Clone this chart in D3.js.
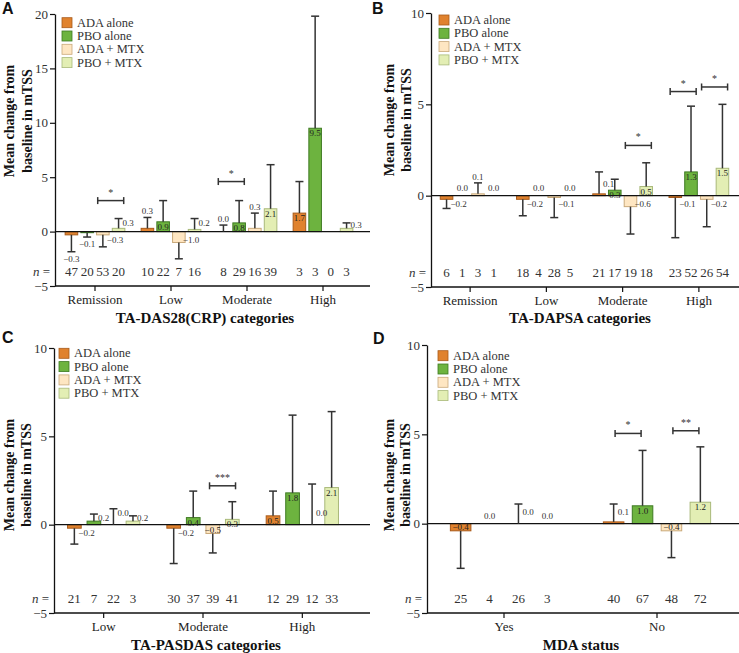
<!DOCTYPE html>
<html><head><meta charset="utf-8">
<script src="https://cdn.jsdelivr.net/npm/d3@7/dist/d3.min.js"></script>
<style>
body{margin:0;background:#fff;}
svg{display:block;}
</style></head>
<body>
<svg id="chart" width="739" height="653"></svg>
<script>
// ---------- DATA ----------
const seriesNames = ["ADA alone", "PBO alone", "ADA + MTX", "PBO + MTX"];

const catsA = ["Remission", "Low", "Moderate", "High"];
const meanA = [[-0.3, -0.1, -0.3, 0.3], [0.3, 0.9, -1.0, 0.2], [0.0, 0.8, 0.3, 2.1], [1.7, 9.5, null, 0.3]];
const errA  = [[-1.85, -0.5, -1.4, 1.2], [1.3, 2.85, -2.5, 1.2], [0.6, 2.85, 1.7, 6.15], [4.6, 19.8, null, 0.8]];
const nA    = [[47, 20, 53, 20], [10, 22, 7, 16], [8, 29, 16, 39], [3, 3, 0, 3]];
const sigA  = [{cat: "Remission", a: 2, b: 3, y: 2.85, label: "*"}, {cat: "Moderate", a: 0, b: 1, y: 4.6, label: "*"}];
const ticksA = [-5, 0, 5, 10, 15, 20];

const catsB = ["Remission", "Low", "Moderate", "High"];
const meanB = [[-0.2, 0.0, 0.1, 0.0], [-0.2, 0.0, -0.1, 0.0], [0.1, 0.3, -0.6, 0.5], [-0.1, 1.3, -0.2, 1.5]];
const errB  = [[-0.7, null, 0.7, null], [-1.1, null, -1.2, null], [1.3, 0.9, -2.1, 1.8], [-2.3, 4.9, -1.7, 5.0]];
const nB    = [[6, 1, 3, 1], [18, 4, 28, 5], [21, 17, 19, 18], [23, 52, 26, 54]];
const sigB  = [{cat: "Moderate", a: 2, b: 3, y: 2.75, label: "*"}, {cat: "High", a: 0, b: 1, y: 5.7, label: "*"}, {cat: "High", a: 2, b: 3, y: 5.95, label: "*"}];
const ticksB = [-5, 0, 5, 10];

const catsC = ["Low", "Moderate", "High"];
const meanC = [[-0.2, 0.2, 0.0, 0.2], [-0.2, 0.4, -0.5, 0.3], [0.5, 1.8, 0.0, 2.1]];
const errC  = [[-1.1, 0.6, 0.9, 0.5], [-2.2, 1.9, -1.6, 1.3], [1.9, 6.2, 2.3, 6.4]];
const nC    = [[21, 7, 22, 3], [30, 37, 39, 41], [12, 29, 12, 33]];
const sigC  = [{cat: "Moderate", a: 2, b: 3, y: 2.2, label: "***"}];
const ticksC = [-5, 0, 5, 10];

const catsD = ["Yes", "No"];
const meanD = [[-0.4, 0.0, 0.0, 0.0], [0.1, 1.0, -0.4, 1.2]];
const errD  = [[-2.5, null, 1.1, null], [1.1, 4.1, -1.9, 4.3]];
const nD    = [[25, 4, 26, 3], [40, 67, 48, 72]];
const sigD  = [{cat: "No", a: 0, b: 1, y: 5.05, label: "*"}, {cat: "No", a: 2, b: 3, y: 5.2, label: "**"}];
const ticksD = [-5, 0, 5, 10];

// ---------- STYLE ----------
const fills   = ["#E0822E", "#6DB33F", "#FEE6C2", "#E3EEB4"];
const strokes = ["#A85A1A", "#3E7A22", "#C9A97A", "#A9B97A"];
const serif = "Liberation Serif, Times New Roman, serif";
const sans = "Liberation Sans, Arial, sans-serif";

const svg = d3.select("#chart");

function fmt(v) { return (v < 0 ? "\u2212" : "") + Math.abs(v).toFixed(1); }
function overlap(a, b) {
  return a.x < b.x + b.width && b.x < a.x + a.width && a.y < b.y + b.height && b.y < a.y + a.height;
}

function drawPanel(p) {
  const g = svg.append("g");
  const y = d3.scaleLinear().domain(p.yDomain).range(p.yRange);
  const xb = d3.scaleBand().domain(p.cats).range(p.band).padding(0);
  const xs = d3.scaleBand().domain(seriesNames).range([-p.groupW / 2, p.groupW / 2]).padding(p.pad);
  const cx = (c, j) => xb(c) + xb.bandwidth() / 2 + xs(seriesNames[j]) + xs.bandwidth() / 2;
  const bw = xs.bandwidth();
  const y0 = y(0), yb = y(p.yDomain[0]);

  // panel letter
  g.append("text").attr("x", p.letter[1]).attr("y", p.letter[2]).text(p.letter[0])
    .style("font-family", sans).attr("font-weight", "bold").attr("font-size", 16).attr("fill", "#111");

  // y axis
  const ya = g.append("g").attr("transform", `translate(${p.axisX},0)`)
    .call(d3.axisLeft(y).tickValues(p.ticks).tickSize(5).tickSizeOuter(0).tickPadding(2)
      .tickFormat(d => (d < 0 ? "\u2212" : "") + Math.abs(d)));
  ya.attr("font-family", null).attr("font-size", null);
  ya.select(".domain").attr("stroke", "#111").attr("stroke-width", 1.3);
  ya.selectAll(".tick line").attr("stroke", "#111").attr("stroke-width", 1.2);
  ya.selectAll(".tick text").style("font-family", serif).style("font-size", "13px").attr("fill", "#333");

  // y title
  const yt = g.append("text").attr("transform", `translate(0,${p.yTitleY}) rotate(-90)`)
    .attr("text-anchor", "middle").style("font-family", serif).attr("font-weight", "bold")
    .attr("font-size", 14).attr("fill", "#111");
  yt.append("tspan").attr("x", 0).attr("y", p.yTitleX[0]).attr("dominant-baseline", "central").text("Mean change from");
  yt.append("tspan").attr("x", 0).attr("y", p.yTitleX[1]).attr("dominant-baseline", "central").text("baseline in mTSS");

  // bottom axis
  const xa = g.append("g").attr("transform", `translate(0,${yb})`)
    .call(d3.axisBottom(xb).tickSize(5).tickSizeOuter(0).tickPadding(4));
  xa.attr("font-family", null).attr("font-size", null);
  xa.select(".domain").remove();
  xa.selectAll(".tick line").attr("stroke", "#111").attr("stroke-width", 1.2);
  xa.selectAll(".tick text").style("font-family", serif).style("font-size", "13px").attr("fill", "#222");
  g.append("line").attr("x1", p.axisX).attr("x2", p.rightX).attr("y1", yb).attr("y2", yb)
    .attr("stroke", "#111").attr("stroke-width", 1.3);

  // x title
  g.append("text").attr("x", p.titleX).attr("y", p.titleY).attr("text-anchor", "middle")
    .style("font-family", serif).attr("font-weight", "bold").attr("font-size", 15).attr("fill", "#111").text(p.title);

  // bars
  p.cats.forEach((c, i) => {
    seriesNames.forEach((s, j) => {
      const v = p.means[i][j];
      if (v === null || v === 0) return;
      const x = cx(c, j) - bw / 2;
      g.append("rect").attr("x", x).attr("y", Math.min(y(v), y0)).attr("width", bw)
        .attr("height", Math.abs(y(v) - y0)).attr("fill", fills[j]).attr("stroke", strokes[j]).attr("stroke-width", 1);
    });
  });

  // zero line
  g.append("line").attr("x1", p.axisX).attr("x2", p.rightX).attr("y1", y0).attr("y2", y0)
    .attr("stroke", "#111").attr("stroke-width", 1.3);

  // error bars + value labels
  const labels = [];
  p.cats.forEach((c, i) => {
    seriesNames.forEach((s, j) => {
      const v = p.means[i][j];
      if (v === null) return;
      const e = p.errs[i][j];
      const xc = cx(c, j);
      if (e !== null) {
        g.append("line").attr("x1", xc).attr("x2", xc).attr("y1", y(v)).attr("y2", y(e))
          .attr("stroke", "#333").attr("stroke-width", 1.5);
        g.append("line").attr("x1", xc - 4).attr("x2", xc + 4).attr("y1", y(e)).attr("y2", y(e))
          .attr("stroke", "#333").attr("stroke-width", 1.5);
      }
      const h = Math.abs(y(v) - y0);
      const t = g.append("text").style("font-family", serif).attr("font-size", 9).attr("fill", "#333").text(fmt(v));
      let fixed = false;
      if (v > 0 && h >= 5) {
        t.attr("x", xc).attr("y", y(v) + 8).attr("text-anchor", "middle").attr("fill", "#222"); fixed = true;
      } else if (v < 0 && h >= 6 && bw >= 13.5) {
        t.attr("x", xc).attr("y", y(v) - 1).attr("text-anchor", "middle").attr("fill", "#222"); fixed = true;
      } else if (e !== null) {
        const ty = v < 0 ? y0 + 11 : Math.min(y0 - 4, Math.max(y(e) + 7, y0 - 9));
        t.attr("x", xc + 4).attr("y", ty).attr("text-anchor", "start");
      } else {
        t.attr("x", xc).attr("y", v < 0 ? y0 + 11 : y0 - 5).attr("text-anchor", "middle");
      }
      labels.push({t, fixed, v, e, xc});
    });
  });
  // avoid collisions: move colliding labels next to the error cap
  labels.filter(l => !l.fixed && l.e !== null).forEach(l => {
    const bb = l.t.node().getBBox();
    const hit = labels.some(o => o !== l && overlap(bb, o.t.node().getBBox()));
    if (hit) {
      if (l.v >= 0 && l.e >= 0) l.t.attr("x", l.xc).attr("y", y(l.e) - 3).attr("text-anchor", "middle");
      else l.t.attr("x", l.xc).attr("y", y(l.e) + 10).attr("text-anchor", "middle");
    }
  });

  // significance brackets
  p.sigs.forEach(sg => {
    const m = (cx(sg.cat, sg.a) + cx(sg.cat, sg.b)) / 2;
    const yy = y(sg.y);
    g.append("line").attr("x1", m - 13).attr("x2", m + 13).attr("y1", yy).attr("y2", yy).attr("stroke", "#333").attr("stroke-width", 1.5);
    [m - 13, m + 13].forEach(xx => g.append("line").attr("x1", xx).attr("x2", xx).attr("y1", yy - 3.5).attr("y2", yy + 3.5)
      .attr("stroke", "#333").attr("stroke-width", 1.5));
    g.append("text").attr("x", m).attr("y", yy - 5).attr("text-anchor", "middle")
      .style("font-family", serif).attr("font-size", 10).attr("fill", "#333").text(sg.label);
  });

  // n row
  const ny = yb - 10;
  const nt = g.append("text").attr("x", p.axisX - 5).attr("y", ny).attr("text-anchor", "end")
    .style("font-family", serif).attr("font-size", 13).attr("fill", "#333");
  nt.append("tspan").attr("font-style", "italic").text("n");
  nt.append("tspan").text(" =");
  p.cats.forEach((c, i) => {
    seriesNames.forEach((s, j) => {
      g.append("text").attr("x", cx(c, j)).attr("y", ny).attr("text-anchor", "middle")
        .style("font-family", serif).attr("font-size", 13).attr("fill", "#333").text(p.ns[i][j]);
    });
  });

  // legend
  seriesNames.forEach((s, j) => {
    const ly = p.legend[1] + j * 13.3;
    g.append("rect").attr("x", p.legend[0]).attr("y", ly).attr("width", 10).attr("height", 10)
      .attr("fill", fills[j]).attr("stroke", strokes[j]).attr("stroke-width", 0.8);
    g.append("text").attr("x", p.legend[0] + 15).attr("y", ly + 9).style("font-family", serif)
      .attr("font-size", 12.5).attr("fill", "#333").text(s);
  });
}

drawPanel({cats: catsA, means: meanA, errs: errA, ns: nA, sigs: sigA, ticks: ticksA,
  yDomain: [-5, 20], yRange: [286, 14], axisX: 55, rightX: 370, band: [57, 361], groupW: 66, pad: 0.2,
  letter: ["A", 2, 14], legend: [62, 17.7], yTitleY: 121, yTitleX: [9, 27],
  title: "TA-DAS28(CRP) categories", titleX: 205, titleY: 323});

drawPanel({cats: catsB, means: meanB, errs: errB, ns: nB, sigs: sigB, ticks: ticksB,
  yDomain: [-5, 10], yRange: [287, 13], axisX: 431, rightX: 739, band: [432, 737], groupW: 66, pad: 0.2,
  letter: ["B", 372, 14], legend: [439, 15], yTitleY: 120, yTitleX: [389, 406],
  title: "TA-DAPSA categories", titleX: 580, titleY: 323});

drawPanel({cats: catsC, means: meanC, errs: errC, ns: nC, sigs: sigC, ticks: ticksC,
  yDomain: [-5, 10], yRange: [613, 348], axisX: 54, rightX: 370, band: [54, 352], groupW: 84, pad: 0.3,
  letter: ["C", 2, 343], legend: [59, 348.3], yTitleY: 475, yTitleX: [9, 26],
  title: "TA-PASDAS categories", titleX: 206, titleY: 650});

drawPanel({cats: catsD, means: meanD, errs: errD, ns: nD, sigs: sigD, ticks: ticksD,
  yDomain: [-5, 10], yRange: [613, 345], axisX: 427, rightX: 739, band: [427.5, 733.5], groupW: 124, pad: 0.29,
  letter: ["D", 373, 344], legend: [438, 350.7], yTitleY: 475, yTitleX: [389, 405],
  title: "MDA status", titleX: 581, titleY: 650});
</script>
</body></html>
